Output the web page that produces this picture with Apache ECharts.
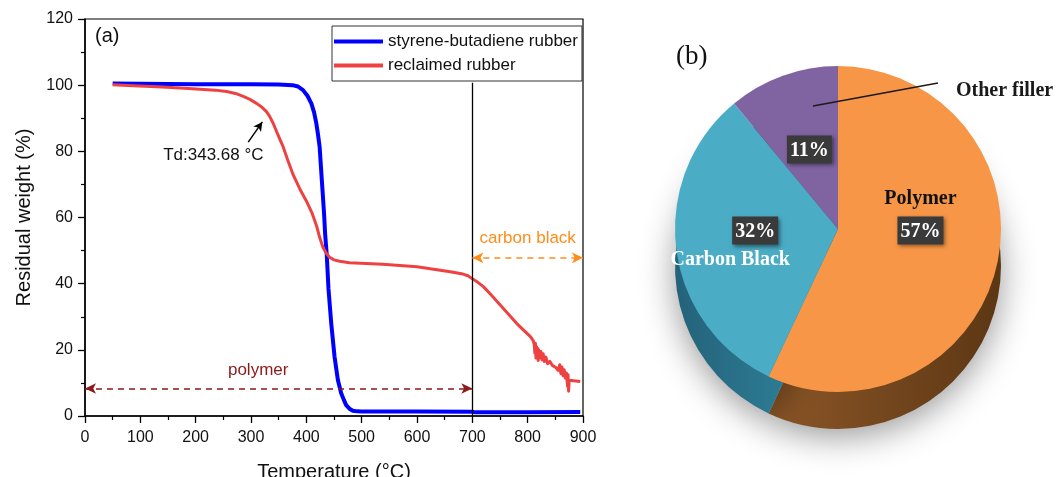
<!DOCTYPE html>
<html><head><meta charset="utf-8">
<script src="https://cdn.jsdelivr.net/npm/echarts@6/dist/echarts.min.js"></script>
<style>html,body{margin:0;padding:0;background:#fff}#c{width:1056px;height:477px}</style>
</head><body><div id="c"></div>
<script>
// ---- Panel (a): TGA curves ----
const sbrName = 'styrene-butadiene rubber';
const sbrTemp   = [50, 100, 200, 300, 350, 375, 385, 394, 402, 409, 414, 418, 421, 424, 428, 432, 434, 437, 440, 445, 451, 457, 463, 468, 472, 478, 484, 492, 500, 600, 700, 705, 800, 895];
const sbrWeight = [100.5, 100.4, 100.3, 100.3, 100.2, 100.0, 99.6, 98.5, 96.8, 94.5, 91.8, 88.5, 85.2, 81.4, 71.3, 61.3, 55.0, 48.5, 38.5, 28.0, 17.9, 10.9, 6.9, 4.8, 3.3, 2.2, 1.6, 1.4, 1.35, 1.35, 1.3, 1.1, 1.15, 1.2];

const rrName = 'reclaimed rubber';
const rrTemp   = [50, 87, 120, 148, 180, 208, 235, 256, 272, 286, 298, 310, 320, 328, 334, 340, 348, 358, 367, 376, 388, 400, 410, 419, 424, 430, 436, 442, 450, 460, 478, 508, 538, 600, 660, 683, 692, 699, 710, 720, 735, 750, 765, 780, 793, 805, 810, 812, 813, 814, 815, 816, 817, 818, 819, 820, 822, 824, 826, 828, 830, 833, 836, 840, 845, 850, 855, 858, 860, 862, 864, 866, 868, 870, 872, 873, 874, 875, 876, 895];
const rrWeight = [100.1, 99.8, 99.6, 99.4, 99.1, 98.8, 98.5, 98.1, 97.5, 96.6, 95.7, 94.5, 93.3, 92.0, 90.5, 88.5, 85.3, 81.4, 77.1, 73.0, 68.7, 65.0, 61.5, 57.2, 54.0, 51.0, 49.2, 48.0, 47.2, 46.8, 46.3, 46.1, 45.9, 45.1, 43.6, 42.9, 42.4, 41.6, 40.4, 39.1, 36.4, 33.6, 30.8, 28.0, 25.9, 24.0, 22.8, 21.5, 19.0, 22.0, 17.5, 21.0, 18.0, 20.5, 16.8, 20.0, 17.5, 19.5, 17.0, 18.8, 16.5, 17.8, 15.8, 16.5, 15.2, 14.8, 13.8, 15.5, 12.8, 14.8, 12.2, 14.0, 11.5, 13.0, 9.0, 12.5, 7.5, 10.8, 10.4, 10.4];

const xMin = 0, xMax = 900, xStep = 100;
const yMin = 0, yMax = 120, yStep = 20;

// annotations
const tdText = 'Td:343.68 °C';
const polymerText = 'polymer';
const carbonText = 'carbon black';

// ---- Panel (b): composition pie ----
const pieNames  = ['Polymer', 'Carbon Black', 'Other filler'];
const pieValues = [57, 32, 11];
const pieTop    = ['#F79646', '#4BACC6', '#8064A2'];

const sbrData = sbrTemp.map((t, i) => [t, sbrWeight[i]]);
const rrData  = rrTemp.map((t, i) => [t, rrWeight[i]]);

const SANS = 'Liberation Sans';
const SERIF = 'Liberation Serif';

function hgrad(a, b) {
  return new echarts.graphic.LinearGradient(0, 0, 1, 0, [{offset: 0, color: a}, {offset: 1, color: b}]);
}
const pieSide = [hgrad('#8C5627', '#5C3714'), hgrad('#24627A', '#3188A0'), hgrad('#54406E', '#54406E')];

const chart = echarts.init(document.getElementById('c'), null, {renderer: 'canvas'});

const pctStyle = {
  color: '#fff', backgroundColor: '#3a3a3a', fontFamily: SERIF, fontWeight: 'bold',
  fontSize: 20, padding: [5, 3, 3, 3],
  shadowColor: 'rgba(0,0,0,0.45)', shadowBlur: 4, shadowOffsetX: 2, shadowOffsetY: 2
};

function pieLabel(p) {
  const pct = p.value + '%';
  if (p.dataIndex === 0) return '{nd|' + p.name + '}\n{pct|' + pct + '}';
  if (p.dataIndex === 1) return '{sp|}{pct|' + pct + '}\n{nl|' + p.name + '}';
  return '{pct|' + pct + '}';
}

const annLabel = (txt, color) => ({show: true, position: 'inside', formatter: txt, fontSize: 17, color: color, fontFamily: SANS});

const option = {
  animation: false,
  textStyle: {fontFamily: SANS},
  grid: {left: 85, top: 19, right: 473, bottom: 61, show: true, borderColor: '#000', borderWidth: 1.2,
         backgroundColor: 'transparent', containLabel: false, outerBoundsMode: 'none'},
  legend: {
    data: [sbrName, rrName], orient: 'vertical', left: 332, top: 26,
    icon: 'rect', itemWidth: 49, itemHeight: 4, itemGap: 7,
    padding: [7, 4, 7, 2], borderColor: '#333', borderWidth: 1,
    textStyle: {fontSize: 17, color: '#111', fontFamily: SANS}
  },
  xAxis: {
    type: 'value', min: xMin, max: xMax, interval: xStep,
    name: 'Temperature (°C)', nameLocation: 'middle', nameGap: 46,
    nameTextStyle: {fontSize: 20, color: '#111', fontFamily: SANS},
    axisLine: {show: true, onZero: false, lineStyle: {color: '#000', width: 1.5}},
    axisTick: {show: true, length: 7, lineStyle: {color: '#000', width: 1.3}},
    minorTick: {show: true, splitNumber: 2, length: 4, lineStyle: {color: '#000', width: 1.2}},
    splitLine: {show: false},
    axisLabel: {fontSize: 16, color: '#111', margin: 14, fontFamily: SANS}
  },
  yAxis: {
    type: 'value', min: yMin, max: yMax, interval: yStep,
    name: 'Residual weight (%)', nameLocation: 'middle', nameGap: 51, nameRotate: 90,
    nameTextStyle: {fontSize: 20, color: '#111', fontFamily: SANS},
    axisLine: {show: true, onZero: false, lineStyle: {color: '#000', width: 1.5}},
    axisTick: {show: true, length: 7, lineStyle: {color: '#000', width: 1.3}},
    minorTick: {show: true, splitNumber: 2, length: 4, lineStyle: {color: '#000', width: 1.2}},
    splitLine: {show: false},
    axisLabel: {fontSize: 16, color: '#111', margin: 12, fontFamily: SANS}
  },
  graphic: [
    {type: 'text', left: 95, top: 26, style: {text: '(a)', fontSize: 20, fontFamily: SANS, fill: '#111'}},
    {type: 'text', left: 676, top: 43, style: {text: '(b)', fontSize: 27, fontFamily: SERIF, fill: '#111'}},
    {type: 'line', shape: {x1: 813, y1: 106, x2: 938, y2: 83}, style: {stroke: '#1a1a1a', lineWidth: 1.3}, z: 100},
    {type: 'text', left: 956, top: 81, style: {text: 'Other filler', fontSize: 20, fontWeight: 'bold', fontFamily: SERIF, fill: '#1a1a1a'}, z: 100}
  ],
  series: [
    {
      name: sbrName, type: 'line', data: sbrData, showSymbol: false, symbol: 'none',
      lineStyle: {color: '#0000FF', width: 4, join: 'round'}, itemStyle: {color: '#0000FF'}, z: 2
    },
    {
      name: rrName, type: 'line', data: rrData, showSymbol: false, symbol: 'none',
      lineStyle: {color: '#EE4242', width: 3, join: 'round'}, itemStyle: {color: '#EE4242'}, z: 3,
      markLine: {
        silent: true, animation: false, label: {show: false},
        data: [
          [{coord: [700, 0], symbol: 'none', lineStyle: {color: '#000', width: 1.3, type: 'solid'}},
           {coord: [700, 100.7], symbol: 'none', lineStyle: {color: '#000', width: 1.3, type: 'solid'}}],
          [{coord: [0, 8.3], symbol: 'arrow', symbolSize: [8, 11], lineStyle: {color: '#8B1A1A', width: 1.5, type: [6, 5]}, itemStyle: {color: '#8B1A1A'}},
           {coord: [700, 8.3], symbol: 'arrow', symbolSize: [8, 11], lineStyle: {color: '#8B1A1A', width: 1.5, type: [6, 5]}, itemStyle: {color: '#8B1A1A'}}],
          [{coord: [700, 47.8], symbol: 'arrow', symbolSize: [8, 11], lineStyle: {color: '#FF8C1A', width: 1.5, type: [6, 5]}, itemStyle: {color: '#FF8C1A'}},
           {coord: [900, 47.8], symbol: 'arrow', symbolSize: [8, 11], lineStyle: {color: '#FF8C1A', width: 1.5, type: [6, 5]}, itemStyle: {color: '#FF8C1A'}}],
          [{coord: [295, 82.8], symbol: 'none', lineStyle: {color: '#000', width: 1.5, type: 'solid'}, itemStyle: {color: '#000'}},
           {coord: [320.5, 88.9], symbol: 'arrow', symbolSize: [7, 9], lineStyle: {color: '#000', width: 1.5, type: 'solid'}, itemStyle: {color: '#000'}}]
        ]
      },
      markPoint: {
        silent: true, animation: false, symbol: 'rect', symbolSize: 1,
        itemStyle: {color: 'rgba(0,0,0,0)'},
        data: [
          {coord: [232, 78.8], label: annLabel(tdText, '#111')},
          {coord: [313, 13.9], label: annLabel(polymerText, '#8B1A1A')},
          {coord: [800, 53.8], label: annLabel(carbonText, '#FF8C1A')}
        ]
      }
    },
    {
      name: 'pie-side', type: 'pie', center: [838, 266], radius: 163, startAngle: 90, clockwise: true,
      silent: true, label: {show: false}, labelLine: {show: false}, emphasis: {disabled: true},
      itemStyle: {borderWidth: 0, shadowColor: 'rgba(0,0,0,0.4)', shadowBlur: 34, shadowOffsetY: 8},
      data: pieNames.map((n, i) => ({name: n, value: pieValues[i], itemStyle: {color: pieSide[i]}})),
      z: 1
    },
    {
      name: 'pie-top', type: 'pie', center: [838, 229], radius: 163, startAngle: 90, clockwise: true,
      silent: true, emphasis: {disabled: true}, labelLine: {show: false},
      itemStyle: {borderWidth: 0},
      label: {
        show: true, position: 'inside', formatter: pieLabel,
        rich: {
          pct: pctStyle,
          nd: {color: '#111', fontFamily: SERIF, fontWeight: 'bold', fontSize: 20, lineHeight: 36},
          nl: {color: '#fff', fontFamily: SERIF, fontWeight: 'bold', fontSize: 20, lineHeight: 30, align: 'left'},
          sp: {width: 50, align: 'left'}
        }
      },
      data: pieNames.map((n, i) => {
        const d = {name: n, value: pieValues[i], itemStyle: {color: pieTop[i]}};
        if (i === 0) d.label = {padding: [0, 0, 70, 0]};
        if (i === 1) d.label = {padding: [12, 48, 0, 0]};
        return d;
      }),
      z: 2
    }
  ]
};
chart.setOption(option);
</script>
</body></html>
